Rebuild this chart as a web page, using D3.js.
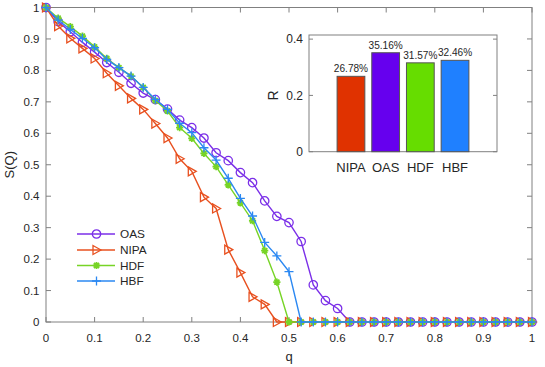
<!DOCTYPE html>
<html>
<head>
<meta charset="utf-8">
<script src="https://cdn.jsdelivr.net/npm/d3@7"></script>
<style>
  body { margin: 0; background: #fff; }
  text { font-family: "Liberation Sans", Arial, sans-serif; fill: #262626; }
</style>
</head>
<body>
<div id="chart"></div>
<script>
// q values (x axis)
var q = [0, 0.025, 0.05, 0.075, 0.1, 0.125, 0.15, 0.175, 0.2, 0.225, 0.25, 0.275, 0.3, 0.325, 0.35, 0.375,
         0.4, 0.425, 0.45, 0.475, 0.5, 0.525, 0.55, 0.575, 0.6, 0.625, 0.65, 0.675, 0.7, 0.725, 0.75, 0.775,
         0.8, 0.825, 0.85, 0.875, 0.9, 0.925, 0.95, 0.975, 1];

var oas  = [1, 0.955, 0.923, 0.889, 0.858, 0.825, 0.794, 0.759, 0.728, 0.707, 0.677, 0.642, 0.618, 0.585, 0.538, 0.513,
            0.475, 0.443, 0.385, 0.336, 0.316, 0.256, 0.118, 0.068, 0.043, 0, 0, 0, 0, 0, 0, 0,
            0, 0, 0, 0, 0, 0, 0, 0, 0];
var nipa = [1, 0.941, 0.902, 0.870, 0.838, 0.791, 0.751, 0.711, 0.676, 0.631, 0.585, 0.519, 0.479, 0.397, 0.361, 0.230,
            0.157, 0.080, 0.056, 0, 0, 0, 0, 0, 0, 0, 0, 0, 0, 0, 0, 0,
            0, 0, 0, 0, 0, 0, 0, 0, 0];
var hdf  = [1, 0.966, 0.939, 0.909, 0.875, 0.838, 0.809, 0.782, 0.746, 0.704, 0.671, 0.618, 0.584, 0.536, 0.494, 0.436,
            0.379, 0.322, 0.227, 0.127, 0, 0, 0, 0, 0, 0, 0, 0, 0, 0, 0, 0,
            0, 0, 0, 0, 0, 0, 0, 0, 0];
var hbf  = [1, 0.960, 0.930, 0.902, 0.872, 0.835, 0.809, 0.782, 0.746, 0.708, 0.676, 0.632, 0.602, 0.554, 0.515, 0.457,
            0.393, 0.337, 0.253, 0.210, 0.160, 0, 0, 0, 0, 0, 0, 0, 0, 0, 0, 0,
            0, 0, 0, 0, 0, 0, 0, 0, 0];

var xTicks = [0, 0.1, 0.2, 0.3, 0.4, 0.5, 0.6, 0.7, 0.8, 0.9, 1];
var yTicks = [0, 0.1, 0.2, 0.3, 0.4, 0.5, 0.6, 0.7, 0.8, 0.9, 1];

// inset bar chart
var barNames = ["NIPA", "OAS", "HDF", "HBF"];
var barValues = [0.2678, 0.3516, 0.3157, 0.3246];
var barLabels = ["26.78%", "35.16%", "31.57%", "32.46%"];
var insetTicks = [0, 0.2, 0.4];

var series = [
  {name: "OAS",  values: oas,  color: "#7b2fe8", marker: "circle"},
  {name: "NIPA", values: nipa, color: "#e8501f", marker: "triangle"},
  {name: "HDF",  values: hdf,  color: "#77d426", marker: "asterisk"},
  {name: "HBF",  values: hbf,  color: "#2b88f2", marker: "plus"}
];
var barColors = ["#e03200", "#6600ee", "#66dd00", "#1f80ff"];

var W = 545, H = 367;
var axisColor = "#808080";

var svg = d3.select("#chart").append("svg")
  .attr("width", W).attr("height", H);

var x = d3.scaleLinear().domain([0, 1]).range([46, 532]);
var y = d3.scaleLinear().domain([0, 1]).range([322, 7.5]);

// markers as paths
function markerPath(type, cx, cy) {
  var p = d3.path();
  if (type == "circle") {
    p.moveTo(cx + 4.2, cy);
    p.arc(cx, cy, 4.2, 0, 2 * Math.PI);
  } else if (type == "triangle") {
    p.moveTo(cx + 4.5, cy);
    p.lineTo(cx - 3.5, cy - 4.5);
    p.lineTo(cx - 3.5, cy + 4.5);
    p.closePath();
  } else if (type == "asterisk") {
    var r = 3.6;
    for (var k = 0; k < 4; k++) {
      var a = k * Math.PI / 4;
      p.moveTo(cx - r * Math.cos(a), cy - r * Math.sin(a));
      p.lineTo(cx + r * Math.cos(a), cy + r * Math.sin(a));
    }
  } else {
    p.moveTo(cx - 4.5, cy); p.lineTo(cx + 4.5, cy);
    p.moveTo(cx, cy - 4.5); p.lineTo(cx, cy + 4.5);
  }
  return p.toString();
}

// main axes box + ticks
var axes = svg.append("g");
axes.append("rect")
  .attr("x", x(0)).attr("y", y(1))
  .attr("width", x(1) - x(0)).attr("height", y(0) - y(1))
  .attr("fill", "none").attr("stroke", axisColor).attr("stroke-width", 1);

axes.selectAll(".xt").data(xTicks).enter().append("path")
  .attr("d", function(d) {
    return "M" + x(d) + "," + y(0) + "v-5M" + x(d) + "," + y(1) + "v5";
  })
  .attr("stroke", axisColor);
axes.selectAll(".yt").data(yTicks).enter().append("path")
  .attr("d", function(d) {
    return "M" + x(0) + "," + y(d) + "h5M" + x(1) + "," + y(d) + "h-5";
  })
  .attr("stroke", axisColor);

axes.selectAll(".xl").data(xTicks).enter().append("text")
  .attr("x", function(d) { return x(d); })
  .attr("y", 341.5)
  .attr("text-anchor", "middle")
  .attr("font-size", 11.5)
  .text(function(d) { return d; });
axes.selectAll(".yl").data(yTicks).enter().append("text")
  .attr("x", 39.5)
  .attr("y", function(d) { return y(d) + 4; })
  .attr("text-anchor", "end")
  .attr("font-size", 11.5)
  .text(function(d) { return d; });

axes.append("text")
  .attr("x", x(0.5)).attr("y", 361)
  .attr("text-anchor", "middle").attr("font-size", 13)
  .text("q");
axes.append("text")
  .attr("transform", "translate(14," + y(0.5) + ") rotate(-90)")
  .attr("text-anchor", "middle").attr("font-size", 13)
  .text("S(Q)");

// lines and markers
var line = d3.line()
  .x(function(d, i) { return x(q[i]); })
  .y(function(d) { return y(d); });

var plot = svg.append("g");
series.forEach(function(s) {
  var g = plot.append("g");
  g.append("path")
    .attr("d", line(s.values))
    .attr("fill", "none")
    .attr("stroke", s.color)
    .attr("stroke-width", 1.4);
  g.selectAll("path.m").data(s.values).enter().append("path")
    .attr("class", "m")
    .attr("d", function(d, i) { return markerPath(s.marker, x(q[i]), y(d)); })
    .attr("fill", "none")
    .attr("stroke", s.color)
    .attr("stroke-width", s.marker == "asterisk" ? 1.8 : 1.3);
});

// legend
var legend = svg.append("g");
var legY = [234, 250, 265.5, 281];
series.forEach(function(s, i) {
  legend.append("path")
    .attr("d", "M77," + legY[i] + "H115")
    .attr("stroke", s.color).attr("stroke-width", 1.4);
  legend.append("path")
    .attr("d", markerPath(s.marker, 96.5, legY[i]))
    .attr("fill", "none").attr("stroke", s.color)
    .attr("stroke-width", s.marker == "asterisk" ? 1.8 : 1.3);
  legend.append("text")
    .attr("x", 120).attr("y", legY[i] + 4.2)
    .attr("font-size", 11.8)
    .text(s.name);
});

// inset
var bx = d3.scaleLinear().domain([2.5 - 2.71, 2.5 + 2.71]).range([309, 497]);
var by = d3.scaleLinear().domain([0, 0.4146]).range([151.7, 35]);
var inset = svg.append("g");
inset.append("rect")
  .attr("x", bx.range()[0]).attr("y", by.range()[1])
  .attr("width", bx.range()[1] - bx.range()[0])
  .attr("height", by.range()[0] - by.range()[1])
  .attr("fill", "#fff").attr("stroke", axisColor);

inset.selectAll(".bar").data(barValues).enter().append("rect")
  .attr("x", function(d, i) { return bx(i + 1 - 0.4); })
  .attr("y", function(d) { return by(d); })
  .attr("width", bx(0.8) - bx(0))
  .attr("height", function(d) { return by(0) - by(d); })
  .attr("fill", function(d, i) { return barColors[i]; })
  .attr("stroke", "#555").attr("stroke-width", 1);

inset.selectAll(".bl").data(barLabels).enter().append("text")
  .attr("x", function(d, i) { return bx(i + 1); })
  .attr("y", function(d, i) { return by(barValues[i]) - 4; })
  .attr("text-anchor", "middle").attr("font-size", 10.1)
  .text(function(d) { return d; });

inset.selectAll(".bn").data(barNames).enter().append("text")
  .attr("x", function(d, i) { return bx(i + 1); })
  .attr("y", 171.5)
  .attr("text-anchor", "middle").attr("font-size", 13)
  .text(function(d) { return d; });

inset.selectAll(".it").data(insetTicks).enter().append("path")
  .attr("d", function(d) {
    return "M" + bx.range()[0] + "," + by(d) + "h4M" + bx.range()[1] + "," + by(d) + "h-4";
  })
  .attr("stroke", axisColor);
inset.selectAll(".il").data(insetTicks).enter().append("text")
  .attr("x", 303)
  .attr("y", function(d) { return by(d) + 4.2; })
  .attr("text-anchor", "end").attr("font-size", 12)
  .text(function(d) { return d; });
inset.append("text")
  .attr("transform", "translate(278," + by(0.2) + ") rotate(-90)")
  .attr("text-anchor", "middle").attr("font-size", 14)
  .text("R");
</script>
</body>
</html>
